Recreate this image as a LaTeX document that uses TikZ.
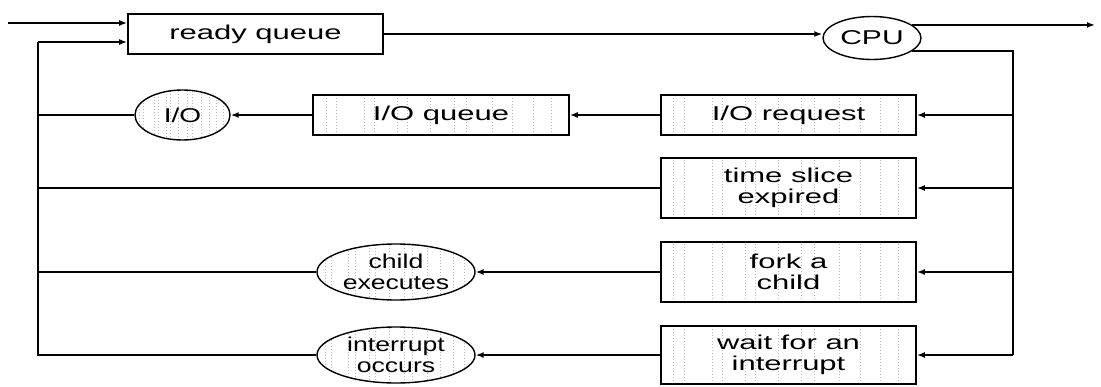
\documentclass[tikz,border=0pt]{standalone}
\usepackage{fontspec}
\setmainfont{Liberation Sans}
\usetikzlibrary{arrows.meta,calc,shapes.geometric}
\newcommand\wt[2][1.55]{\scalebox{#1}[1]{#2}}
\tikzset{
  ln/.style={line width=1.6pt},
  arr/.style={ln,-{Latex[length=8pt,width=6pt]}},
  stip/.style={path picture={
    \foreach \f in {0.05,0.09,0.2,0.24,0.33,0.37,0.46,0.55,0.6,0.7,0.78,0.86,0.93}{
      \draw[gray!55,line width=0.6pt,dash pattern=on 1.5pt off 1.5pt]
        ($(path picture bounding box.south west)!\f!(path picture bounding box.south east)$) --
        ($(path picture bounding box.north west)!\f!(path picture bounding box.north east)$);
    }}},
  box/.style={draw,rectangle,line width=1.6pt,minimum width=255pt,minimum height=40pt,
    inner sep=0pt,align=center,font=\fontsize{20}{21}\selectfont},
  oval/.style={draw,ellipse,line width=1.4pt,inner sep=0pt,align=center,
    font=\fontsize{20}{21}\selectfont},
}
\begin{document}
\begin{tikzpicture}[x=1pt,y=-1pt]
\useasboundingbox (0,0) rectangle (1101,386);
% nodes
\node[box,minimum height=40pt] (readyq) at (255.5,34) {\wt{ready queue}};
\node[oval,minimum width=98pt,minimum height=43pt] (cpu) at (872,38) {\wt[1.5]{CPU}};
\node[box,stip] (ioreq) at (788.5,115) {\wt{I/O request}};
\node[box,stip,minimum width=256pt] (ioq) at (441,115) {\wt{I/O queue}};
\node[oval,stip,minimum width=95pt,minimum height=50pt] (io) at (182.5,115) {\wt[1.4]{I/O}};
\node[box,stip,minimum height=60pt] (ts) at (788.5,188) {\wt{time slice}\\\wt{expired}};
\node[box,stip,minimum height=60pt] (fork) at (788.5,272) {\wt{fork a}\\\wt{child}};
\node[box,stip,minimum height=58pt] (wait) at (788.5,355) {\wt{wait for an}\\\wt{interrupt}};
\node[oval,stip,minimum width=158pt,minimum height=56pt] (child) at (396,272) {\wt[1.33]{child}\\\wt[1.33]{executes}};
\node[oval,stip,minimum width=158pt,minimum height=56pt] (intr) at (396,355) {\wt[1.33]{interrupt}\\\wt[1.33]{occurs}};
% coordinates
\coordinate (in1) at (8,23);
\coordinate (out) at (1095,25);
\coordinate (bus) at (1013,355);
\coordinate (Lbot) at (38,355);
\coordinate (Ltop) at (38,42);
% connectors
\draw[arr] (in1) -- (in1 -| readyq.west);
\draw[arr] (readyq.east) -- (readyq.east -| cpu.west);
\draw[arr] (cpu.18) -- (cpu.18 -| out);
\draw[ln] (cpu.-18) -| (bus);
\draw[arr] (ioreq.east -| bus) -- (ioreq.east);
\draw[arr] (ts.east -| bus) -- (ts.east);
\draw[arr] (fork.east -| bus) -- (fork.east);
\draw[arr] (bus) -- (wait.east);
\draw[arr] (ioreq) -- (ioq);
\draw[arr] (ioq) -- (io);
\draw[ln] (io.west) -- (io.west -| Lbot);
\draw[ln] (ts.west) -- (ts.west -| Lbot);
\draw[arr] (fork) -- (child);
\draw[ln] (child.west) -- (child.west -| Lbot);
\draw[arr] (wait) -- (intr);
\draw[ln] (intr.west) -- (Lbot) -- (Ltop);
\draw[arr] (Ltop) -- (Ltop -| readyq.west);
\end{tikzpicture}
\end{document}
